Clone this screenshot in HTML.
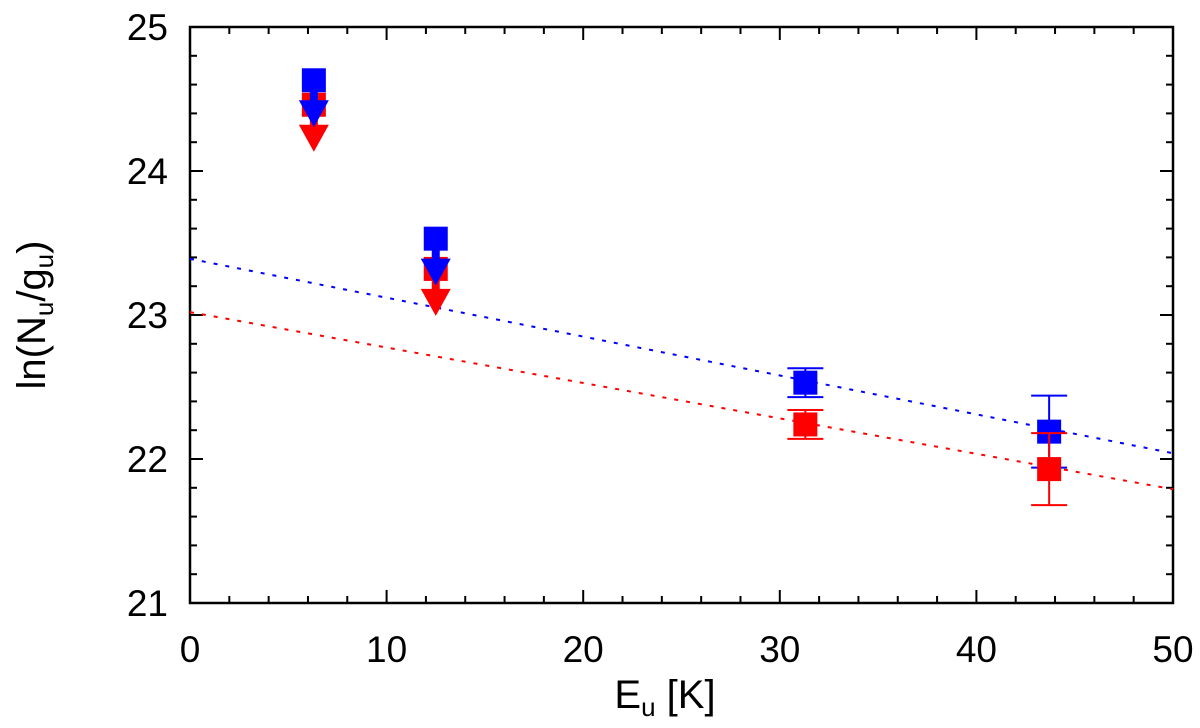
<!DOCTYPE html>
<html><head><meta charset="utf-8"><style>
body{margin:0;background:#fff}
svg text{font-family:"Liberation Sans",sans-serif;fill:#000}
</style></head><body>
<svg width="1200" height="723" viewBox="0 0 1200 723">
<g id="axes"></g>
<g id="marks"></g>
</svg>
<script>
const xTicks=[0,10,20,30,40,50];
const yTicks=[21,22,23,24,25];
const detX=[31.3,43.7];
const detBlue=[22.53,22.19];
const detBlueErr=[0.1,0.25];
const detRed=[22.24,21.93];
const detRedErr=[0.1,0.25];
const limX=[6.3,12.5];
const limBlue=[24.63,23.53];
const limRed=[24.46,23.32];
const fitBlue=[23.39,22.04];
const fitRed=[23.02,21.79];
const fitX=[0,50];

const X0=190,X1=1173,Y0=603,Y1=27;
const sx=v=>X0+(v-0)/(50-0)*(X1-X0);
const sy=v=>Y0-(v-21)/(25-21)*(Y0-Y1);
const NS="http://www.w3.org/2000/svg";
function mk(tag,attrs,parent){const e=document.createElementNS(NS,tag);for(const k in attrs)e.setAttribute(k,attrs[k]);parent.appendChild(e);return e;}
const ax=document.getElementById('axes'),mg=document.getElementById('marks');
let f=mk('rect',{x:X0,y:Y1,width:X1-X0,height:Y0-Y1,fill:'none',stroke:'#000','stroke-width':2.5},ax);


for(let v=0;v<=50;v+=2){const maj=v%10===0,L=maj?13:7,x=sx(v);
 mk('line',{x1:x,x2:x,y1:Y0,y2:Y0-L,stroke:'#000','stroke-width':2},ax);
 mk('line',{x1:x,x2:x,y1:Y1,y2:Y1+L,stroke:'#000','stroke-width':2},ax);}
for(let i=0;i<=20;i++){const v=21+i*0.2,maj=i%5===0,L=maj?13:7,y=sy(v);
 mk('line',{x1:X0,x2:X0+L,y1:y,y2:y,stroke:'#000','stroke-width':2},ax);
 mk('line',{x1:X1,x2:X1-L,y1:y,y2:y,stroke:'#000','stroke-width':2},ax);}
xTicks.forEach(v=>{const t=mk('text',{x:sx(v),y:662,'font-size':37,'text-anchor':'middle'},ax);t.textContent=v;
 
 });
yTicks.forEach(v=>{const t=mk('text',{x:168,y:sy(v)+13,'font-size':37,'text-anchor':'end'},ax);t.textContent=v;
 
 });
let xt=mk('text',{x:665,y:708,'font-size':40,'text-anchor':'middle'},ax);
xt.innerHTML='E<tspan font-size="26" dy="8">u</tspan><tspan dy="-8">  [K]</tspan>';


let yt=mk('text',{x:0,y:0,'font-size':40,'text-anchor':'middle',transform:'translate(45,315) rotate(-90)'},ax);
yt.innerHTML='ln(N<tspan font-size="26" dy="8">u</tspan><tspan dy="-8">/g</tspan><tspan font-size="26" dy="8">u</tspan><tspan dy="-8">)</tspan>';


[[fitBlue,'#0000ff','fit-line-blue'],[fitRed,'#ff0000','fit-line-red']].forEach(([fv,c,n])=>{
 const l=mk('line',{x1:sx(fitX[0]),y1:sy(fv[0]),x2:sx(fitX[1]),y2:sy(fv[1]),stroke:c,'stroke-width':2,'stroke-dasharray':'4 8'},mg);
 
 });
const S=24;
function square(x,v,c,n){const r=mk('rect',{x:sx(x)-S/2,y:sy(v)-S/2,width:S,height:S,fill:c},mg);
 
 }
function errbar(x,v,e,c){const px=sx(x);
 mk('line',{x1:px,x2:px,y1:sy(v+e),y2:sy(v-e),stroke:c,'stroke-width':2},mg);
 [v+e,v-e].forEach(w=>mk('line',{x1:px-18,x2:px+18,y1:sy(w),y2:sy(w),stroke:c,'stroke-width':2},mg));}
function limit(x,v,c,n){const px=sx(x),py=sy(v);
 square(x,v,c,n);
 mk('rect',{x:px-4,y:py,width:8,height:24,fill:c},mg);
 const a=mk('polygon',{points:`${px-15},${py+20} ${px+15},${py+20} ${px},${py+47}`,fill:c},mg);
 
 }
limX.forEach((x,i)=>{limit(x,limRed[i],'#ff0000','upper-limit-red');limit(x,limBlue[i],'#0000ff','upper-limit-blue');});
detX.forEach((x,i)=>{errbar(x,detBlue[i],detBlueErr[i],'#0000ff');square(x,detBlue[i],'#0000ff','point-blue');
 errbar(x,detRed[i],detRedErr[i],'#ff0000');square(x,detRed[i],'#ff0000','point-red');});
</script>
</body></html>
